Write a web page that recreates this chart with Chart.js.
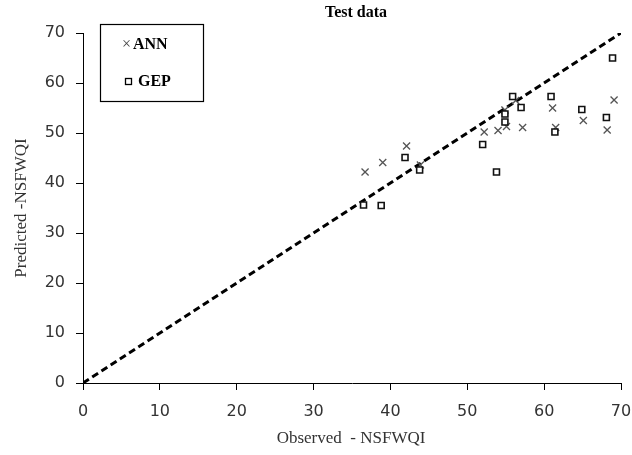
<!DOCTYPE html>
<html>
<head>
<meta charset="utf-8">
<script src="https://cdn.jsdelivr.net/npm/chart.js@4.4.0/dist/chart.umd.min.js"></script>
<style>
html,body{margin:0;padding:0;background:#fff;}
#wrap{width:632px;height:455px;position:relative;}
</style>
</head>
<body>
<div id="wrap"><canvas id="c" width="632" height="455"></canvas></div>
<script>
// Data
const annObserved  = [36.7, 39.0, 42.1, 43.9, 52.2, 54.0, 54.9, 55.1, 56.3, 57.2, 61.1, 61.5, 65.1, 68.2, 69.1];
const annPredicted = [42.2, 44.1, 47.4, 43.6, 50.2, 50.5, 54.6, 51.3, 56.5, 51.1, 55.0, 51.1, 52.5, 50.6, 56.6];
const gepObserved  = [36.5, 38.8, 41.9, 43.8, 52.0, 53.8, 54.9, 54.9, 55.9, 57.0, 60.9, 61.4, 64.9, 68.1, 68.9];
const gepPredicted = [35.6, 35.5, 45.1, 42.6, 47.7, 42.2, 53.8, 52.2, 57.3, 55.1, 57.3, 50.2, 54.7, 53.1, 65.0];
const lineX = [0, 70];
const lineY = [0, 70];
const axisTicks = [0, 10, 20, 30, 40, 50, 60, 70];
const titleText = "Test data";
const xTitle = "Observed  - NSFWQI";
const yTitle = "Predicted -NSFWQI";
const seriesNames = ["ANN", "GEP"];

const toPts = (xs, ys) => xs.map((x, i) => ({x: x, y: ys[i]}));

const decor = {
  id: 'decor',
  afterDraw(chart) {
    const ctx = chart.ctx;
    ctx.save();
    // title
    ctx.fillStyle = '#000';
    ctx.font = 'bold 16px "Liberation Serif"';
    ctx.textAlign = 'center';
    ctx.textBaseline = 'middle';
    ctx.fillText(titleText, 356, 13);
    // axis titles
    ctx.fillStyle = '#333';
    ctx.font = '17px "Liberation Serif"';
    ctx.fillText(xTitle, 351, 439);
    ctx.save();
    ctx.translate(22, 208);
    ctx.rotate(-Math.PI / 2);
    ctx.fillText(yTitle, 0, 0);
    ctx.restore();
    // legend box
    ctx.strokeStyle = '#000';
    ctx.lineWidth = 1.2;
    ctx.strokeRect(100.5, 24.5, 103, 77);
    ctx.textAlign = 'left';
    ctx.fillStyle = '#444';
    ctx.font = '16px "Liberation Serif"';
    ctx.fillText('\u00d7', 122, 45);
    ctx.fillStyle = '#000';
    ctx.font = 'bold 16px "Liberation Serif"';
    ctx.fillText(seriesNames[0], 133, 45);
    ctx.strokeStyle = '#000';
    ctx.lineWidth = 1.3;
    ctx.strokeRect(125.5, 78.5, 6, 6);
    ctx.fillText(seriesNames[1], 138, 82);
    ctx.restore();
  }
};

const scaleCommon = {
  type: 'linear',
  min: 0, max: 70,
  afterBuildTicks(scale) { scale.ticks = axisTicks.map(v => ({value: v})); },
  grid: { drawOnChartArea: false, drawTicks: true, tickLength: 7, color: '#000', tickColor: '#000' },
  border: { display: true, color: '#000', width: 1 },
  ticks: { color: '#333', font: { family: '"DejaVu Sans"', size: 16 } }
};

new Chart(document.getElementById('c'), {
  type: 'scatter',
  data: {
    datasets: [
      {
        label: seriesNames[0],
        data: toPts(annObserved, annPredicted),
        pointStyle: 'crossRot',
        pointRadius: 5,
        borderColor: '#555',
        borderWidth: 1.3,
        backgroundColor: '#555',
        order: 2
      },
      {
        label: seriesNames[1],
        data: toPts(gepObserved, gepPredicted),
        pointStyle: 'rect',
        pointRadius: 4.2,
        borderColor: '#111',
        borderWidth: 1.6,
        backgroundColor: '#fff',
        order: 1
      },
      {
        type: 'line',
        label: '1:1',
        data: toPts(lineX, lineY),
        borderColor: '#000',
        borderWidth: 3,
        borderDash: [7, 4],
        pointRadius: 0,
        fill: false,
        order: 3
      }
    ]
  },
  options: {
    responsive: false,
    animation: false,
    devicePixelRatio: 1,
    layout: { padding: { top: 33, right: 2, left: 0, bottom: 0 } },
    plugins: { legend: { display: false }, title: { display: false }, tooltip: { enabled: false } },
    scales: {
      x: Object.assign({}, scaleCommon, {
        position: 'bottom',
        ticks: Object.assign({}, scaleCommon.ticks, { padding: 12, maxRotation: 0 }),
        afterFit(s) { s.height = 72; s.paddingRight = 11; s.paddingLeft = 0; }
      }),
      y: Object.assign({}, scaleCommon, {
        position: 'left',
        ticks: Object.assign({}, scaleCommon.ticks, { padding: 11 }),
        afterFit(s) { s.width = 83; s.paddingTop = 0; s.paddingBottom = 0; }
      })
    }
  },
  plugins: [decor]
});
</script>
</body>
</html>
